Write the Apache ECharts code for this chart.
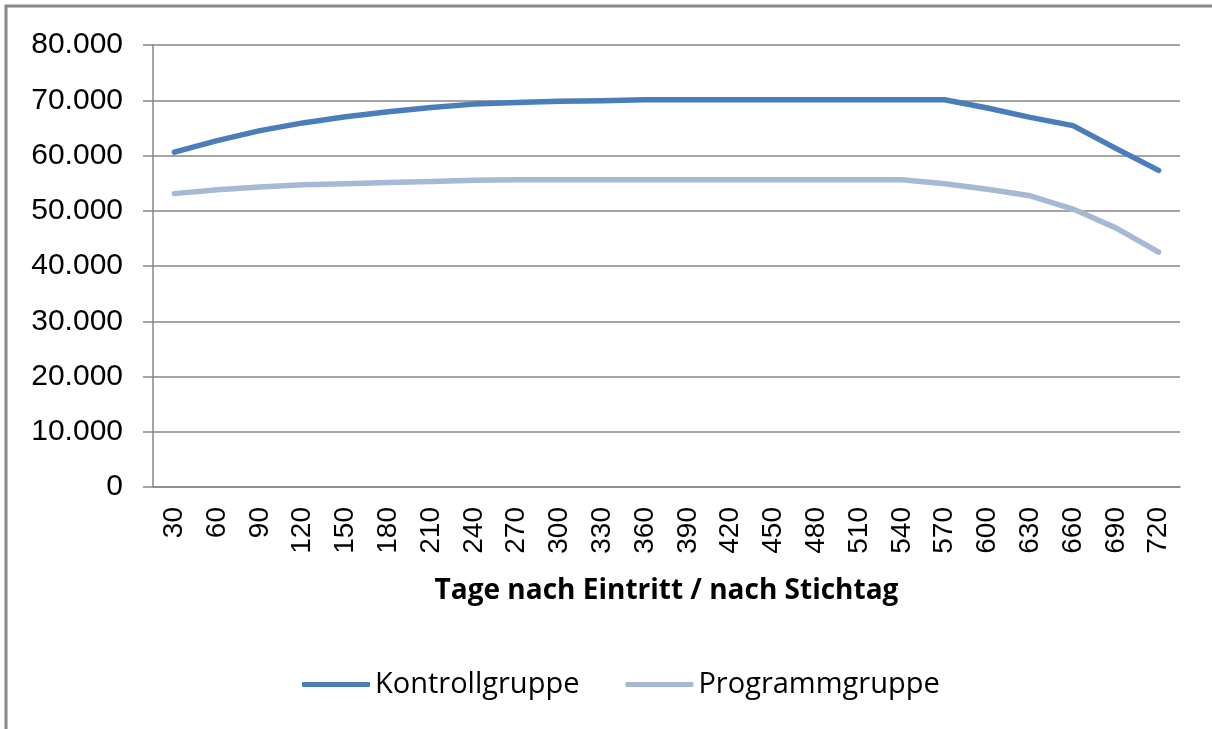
<!DOCTYPE html>
<html>
<head>
<meta charset="utf-8">
<title>Kontrollgruppe / Programmgruppe</title>
<script src="https://cdn.jsdelivr.net/npm/echarts@6/dist/echarts.min.js"></script>
<style>
  html, body { margin: 0; padding: 0; background: #fff; }
  #chart { width: 1212px; height: 729px; }
</style>
</head>
<body>
<div id="chart"></div>
<script>
// Tage nach Eintritt / nach Stichtag
const days = ['30', '60', '90', '120', '150', '180', '210', '240', '270', '300', '330', '360',
  '390', '420', '450', '480', '510', '540', '570', '600', '630', '660', '690', '720'];

const kontrollgruppe = [60600, 62700, 64500, 65900, 67000, 67900, 68700, 69300, 69600, 69800, 69900, 70100,
  70100, 70100, 70100, 70100, 70100, 70100, 70100, 68600, 66900, 65400, 61300, 57300];

const programmgruppe = [53100, 53800, 54300, 54700, 54900, 55100, 55300, 55500, 55600, 55600, 55600, 55600,
  55600, 55600, 55600, 55600, 55600, 55600, 54900, 53900, 52700, 50300, 46900, 42500];

const axisGray = '#868686';
const labelFont = '"Liberation Sans", Arial, sans-serif';
const calibriLike = '"Open Sans", "Noto Sans", sans-serif';

// 80000 -> 80.000
function formatThousands(v) {
  return String(v).replace(/\B(?=(\d{3})+(?!\d))/g, '.');
}

const chart = echarts.init(document.getElementById('chart'), null, { renderer: 'canvas' });

chart.setOption({
  animation: false,
  backgroundColor: '#fff',
  graphic: [
    // outer frame of the original chart (only left and top edges are visible)
    { type: 'rect', shape: { x: 6, y: 6, width: 1300, height: 800 },
      style: { fill: 'none', stroke: '#888', lineWidth: 3 }, silent: true }
  ],
  grid: {
    left: 153,
    right: 32,
    top: 45,
    bottom: 242
  },
  legend: {
    bottom: 25,
    left: 297,
    itemWidth: 68,
    itemHeight: 5,
    itemGap: 46,
    icon: 'roundRect',
    textStyle: { fontFamily: calibriLike, fontSize: 29, color: '#000', padding: [0, 0, 0, 0] },
    data: ['Kontrollgruppe', 'Programmgruppe']
  },
  xAxis: {
    type: 'category',
    data: days,
    boundaryGap: true,
    name: 'Tage nach Eintritt / nach Stichtag',
    nameLocation: 'middle',
    nameGap: 90,
    nameTextStyle: { fontFamily: calibriLike, fontSize: 28, fontWeight: 'bold', color: '#000' },
    axisLine: { lineStyle: { color: axisGray, width: 1.5 } },
    axisTick: { length: 10, lineStyle: { color: axisGray, width: 1.5 } },
    axisLabel: { rotate: 90, margin: 20, fontFamily: labelFont, fontSize: 28, color: '#000' },
    splitLine: { show: false }
  },
  yAxis: {
    type: 'value',
    min: 0,
    max: 80000,
    interval: 10000,
    axisLine: { show: true, lineStyle: { color: axisGray, width: 1.5 } },
    axisTick: { show: true, length: 10, lineStyle: { color: axisGray, width: 1.5 } },
    axisLabel: {
      margin: 30,
      fontFamily: labelFont,
      fontSize: 30,
      color: '#000',
      formatter: formatThousands
    },
    splitLine: { lineStyle: { color: axisGray, width: 1.5 } }
  },
  series: [
    {
      name: 'Kontrollgruppe',
      type: 'line',
      data: kontrollgruppe,
      symbol: 'none',
      color: '#4a7ebb',
      lineStyle: { width: 5.5, cap: 'round', join: 'round' }
    },
    {
      name: 'Programmgruppe',
      type: 'line',
      data: programmgruppe,
      symbol: 'none',
      color: '#a5b8d6',
      lineStyle: { width: 5.5, cap: 'round', join: 'round' }
    }
  ]
});
</script>
</body>
</html>
